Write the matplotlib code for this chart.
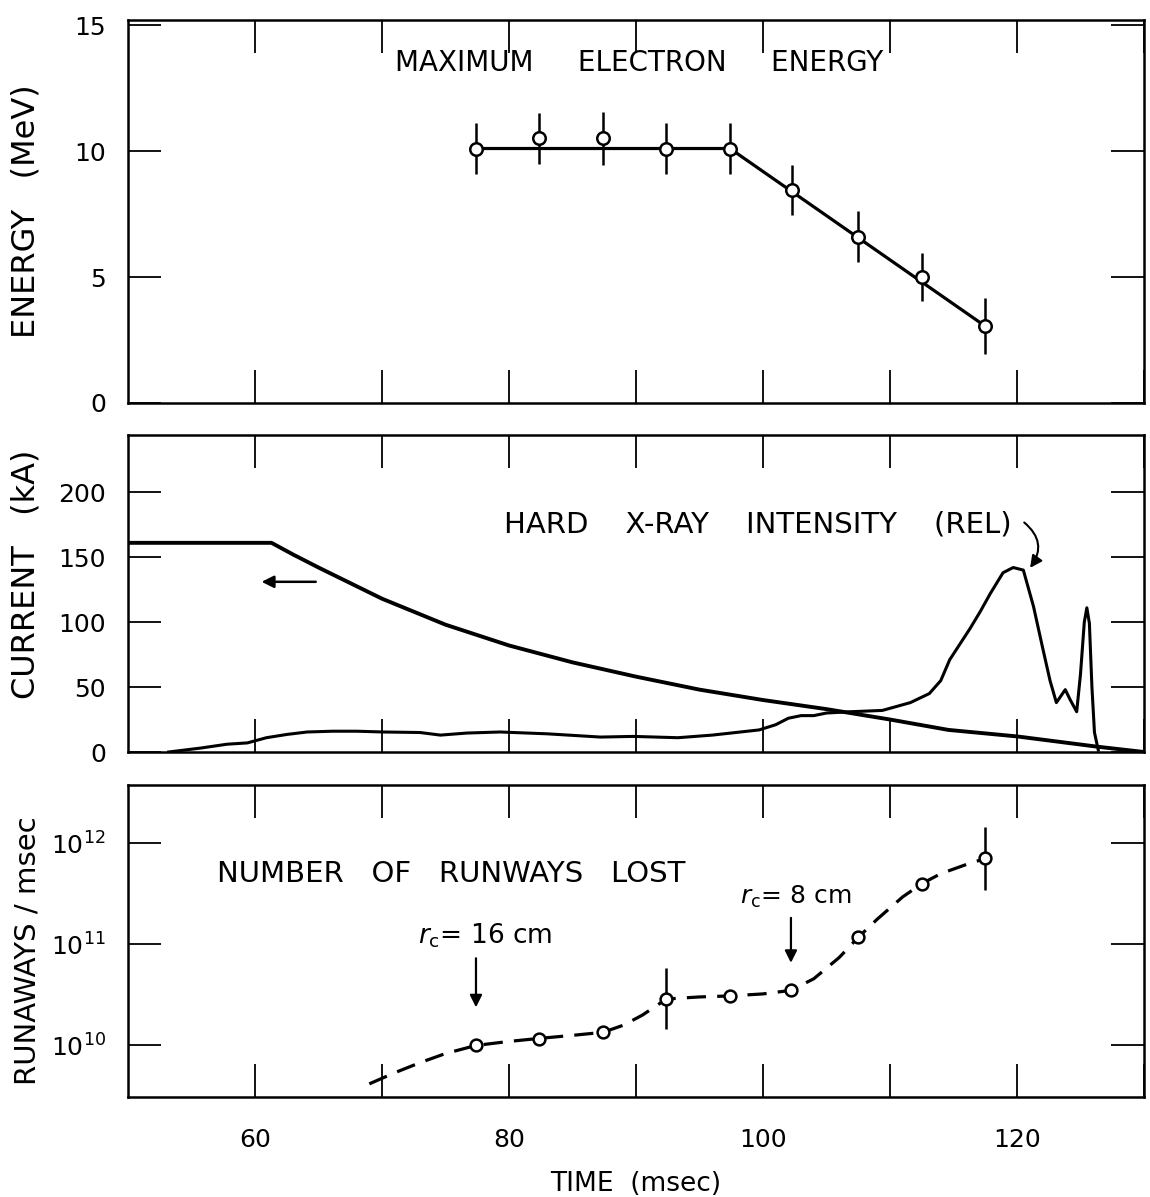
import numpy as np
import matplotlib
matplotlib.use("Agg")
import matplotlib.pyplot as plt
from matplotlib import font_manager

# ---------------- data ----------------
# top panel: maximum electron energy
t_energy = [77.4, 82.4, 87.4, 92.4, 97.4, 102.3, 107.5, 112.5, 117.5]
energy = [10.1, 10.5, 10.5, 10.1, 10.1, 8.45, 6.6, 5.0, 3.05]
energy_err = [1.0, 1.0, 1.05, 1.0, 1.0, 1.0, 1.0, 0.95, 1.1]
t_energy_line = [77.4, 97.4, 117.5]
energy_line = [10.1, 10.1, 3.05]

# middle panel: plasma current (kA)
t_current = [50, 61.3, 63, 65, 70, 75, 80, 85, 90, 95, 100, 105, 110, 114.6, 120, 126.4, 130]
current = [161, 161, 152, 142, 118, 98, 82, 69, 58, 48, 40, 33, 25, 17, 12, 4, 0]

# middle panel: hard x-ray intensity (relative)
t_xray = [53.2, 55.7, 57.8, 59.4, 60.9, 62.5, 64.1, 66.1, 68, 70.1, 73.0, 74.6, 76.7,
          79.3, 83, 87.2, 89.8, 93.3, 96, 99.7, 101, 102, 103, 104, 105, 106.9,
          109.4, 111.6, 113.1, 114.0, 114.7, 115.5, 116.3, 117.1, 117.9, 118.9, 119.7,
          120.5, 121.3, 122.0, 122.6, 123.1, 123.8, 124.2, 124.7, 125.0, 125.3, 125.5,
          125.7, 125.9, 126.1, 126.4]
xray = [0, 3, 6, 7, 11, 13.5, 15.4, 16, 16, 15.4, 15, 13, 14.6,
        15.4, 14, 11.5, 12, 11, 13, 17, 21, 26, 28, 28, 30, 31,
        32, 38, 45, 55, 71, 83, 95, 108, 122, 138, 142,
        140, 112, 81, 55, 38, 48, 40, 31, 60, 100, 111,
        99, 50, 15, 1.5]

# bottom panel: number of runaways lost per msec
t_runaway = [77.4, 82.4, 87.4, 92.4, 97.4, 102.2, 107.5, 112.5, 117.5]
runaway = [1.0e10, 1.17e10, 1.35e10, 2.9e10, 3.1e10, 3.5e10, 1.18e11, 4.0e11, 7.1e11]
runaway_err_dec = [0, 0, 0, 0.3, 0, 0, 0, 0, 0.31]
t_runaway_curve = [69.0, 71, 73, 75, 77.4, 80, 82.4, 85, 87.4, 89, 90.5, 92.4, 95,
                   97.4, 100, 102.2, 104, 106, 107.5, 109, 111, 112.5, 114, 116, 117.5]
log_runaway_curve = [9.62, 9.73, 9.83, 9.92, 10.0, 10.04, 10.07, 10.1, 10.13, 10.2, 10.3, 10.46, 10.48,
                     10.49, 10.51, 10.545, 10.66, 10.87, 11.07, 11.25, 11.47, 11.6, 11.7, 11.79, 11.85]

x_ticks = [60, 80, 100, 120]

# ---------------- figure ----------------
W, H = 1150, 1197
fig = plt.figure(figsize=(W / 100, H / 100), dpi=100)
plt.rcParams['font.family'] = ['DejaVu Sans']

avail = {f.name for f in font_manager.fontManager.ttflist}
num_family = 'Liberation Sans Narrow' if 'Liberation Sans Narrow' in avail else 'DejaVu Sans'
num_size = 21 if num_family == 'Liberation Sans Narrow' else 18

left, right = 128 / W, 1144 / W
def axrect(top_px, bot_px):
    return [left, 1 - bot_px / H, right - left, (bot_px - top_px) / H]

ax1 = fig.add_axes(axrect(20, 403))
ax2 = fig.add_axes(axrect(435, 752))
ax3 = fig.add_axes(axrect(785, 1097))

LW = 2.3
for ax in (ax1, ax2, ax3):
    ax.set_xlim(50, 130)
    ax.set_xticks(np.arange(60, 131, 10))
    ax.tick_params(axis='both', which='major', direction='in', length=24, width=1.3,
                   top=True, right=True, labelsize=num_size, pad=16)
    ax.tick_params(axis='both', which='minor', length=0)
    for s in ax.spines.values():
        s.set_linewidth(1.8)
    ax.set_xticklabels([])

ax3.set_xticklabels([str(v) if v in x_ticks else '' for v in range(60, 131, 10)])
ax3.tick_params(axis='x', pad=22)
ax3.set_xlabel('TIME  (msec)', fontsize=19, labelpad=14)

def style_ticklabels(ax):
    for lab in ax.get_xticklabels() + ax.get_yticklabels():
        lab.set_family(num_family)

# ---- top ----
ax1.set_ylim(0, 15.2)
ax1.set_yticks([0, 5, 10, 15])
ax1.plot(t_energy_line, energy_line, color='black', lw=LW, zorder=2)
ax1.errorbar(t_energy, energy, yerr=energy_err, fmt='o', color='black', ms=9,
             mfc='white', mec='black', mew=1.8, elinewidth=1.8, capsize=0, zorder=3)
ax1.set_ylabel('ENERGY   (MeV)', fontsize=23)
ax1.yaxis.set_label_coords(-0.085, 0.5)
ax1.text(71.0, 13.5, 'MAXIMUM     ELECTRON     ENERGY', fontsize=20, va='center', ha='left')

# ---- middle ----
ax2.set_ylim(0, 244)
ax2.set_yticks([0, 50, 100, 150, 200])
ax2.plot(t_current, current, color='black', lw=2.8, zorder=2)
ax2.plot(t_xray, xray, color='black', lw=2.2, zorder=2)
ax2.set_ylabel('CURRENT   (kA)', fontsize=23)
ax2.yaxis.set_label_coords(-0.085, 0.56)
ax2.text(119.6, 175, 'HARD    X-RAY    INTENSITY    (REL)', fontsize=21, va='center', ha='right')
ax2.annotate('', xy=(120.9, 140), xytext=(120.4, 178),
             arrowprops=dict(arrowstyle='-|>', color='black', lw=1.5,
                             connectionstyle='arc3,rad=-0.5', mutation_scale=18))
ax2.annotate('', xy=(60.3, 131), xytext=(65.0, 131),
             arrowprops=dict(arrowstyle='-|>', color='black', lw=1.8, mutation_scale=18))

# ---- bottom ----
ax3.set_yscale('log')
ax3.set_ylim(10 ** 9.49, 10 ** 12.577)
ax3.set_yticks([1e10, 1e11, 1e12])
ax3.set_yticklabels([r'$10^{10}$', r'$10^{11}$', r'$10^{12}$'])
ax3.plot(t_runaway_curve, 10 ** np.array(log_runaway_curve), color='black', lw=LW,
         dashes=(6, 3.5), zorder=2)
lo = [r - r / 10 ** e for r, e in zip(runaway, runaway_err_dec)]
hi = [r * 10 ** e - r for r, e in zip(runaway, runaway_err_dec)]
ax3.errorbar(t_runaway, runaway, yerr=[lo, hi], fmt='o', color='black', ms=8.5,
             mfc='white', mec='black', mew=1.8, elinewidth=1.8, capsize=0, zorder=3)
ax3.set_ylabel('RUNAWAYS / msec', fontsize=21)
ax3.yaxis.set_label_coords(-0.085, 0.47)
ax3.text(93.9, 10 ** 11.70, 'NUMBER   OF   RUNWAYS   LOST', fontsize=21, va='center', ha='right')
ax3.text(72.8, 10 ** 11.09, r'$\it{r}_{\rm c}$= 16 cm', fontsize=19, va='center', ha='left')
ax3.text(98.2, 10 ** 11.47, r'$\it{r}_{\rm c}$= 8 cm', fontsize=18, va='center', ha='left')
ax3.annotate('', xy=(t_runaway[0], 10 ** 10.35), xytext=(t_runaway[0], 10 ** 10.89),
             arrowprops=dict(arrowstyle='-|>', color='black', lw=1.6, mutation_scale=18))
ax3.annotate('', xy=(t_runaway[5], 10 ** 10.79), xytext=(t_runaway[5], 10 ** 11.29),
             arrowprops=dict(arrowstyle='-|>', color='black', lw=1.6, mutation_scale=18))

for ax in (ax1, ax2):
    style_ticklabels(ax)
for lab in ax3.get_xticklabels():
    lab.set_family(num_family)

fig.savefig('out.png', dpi=100)
